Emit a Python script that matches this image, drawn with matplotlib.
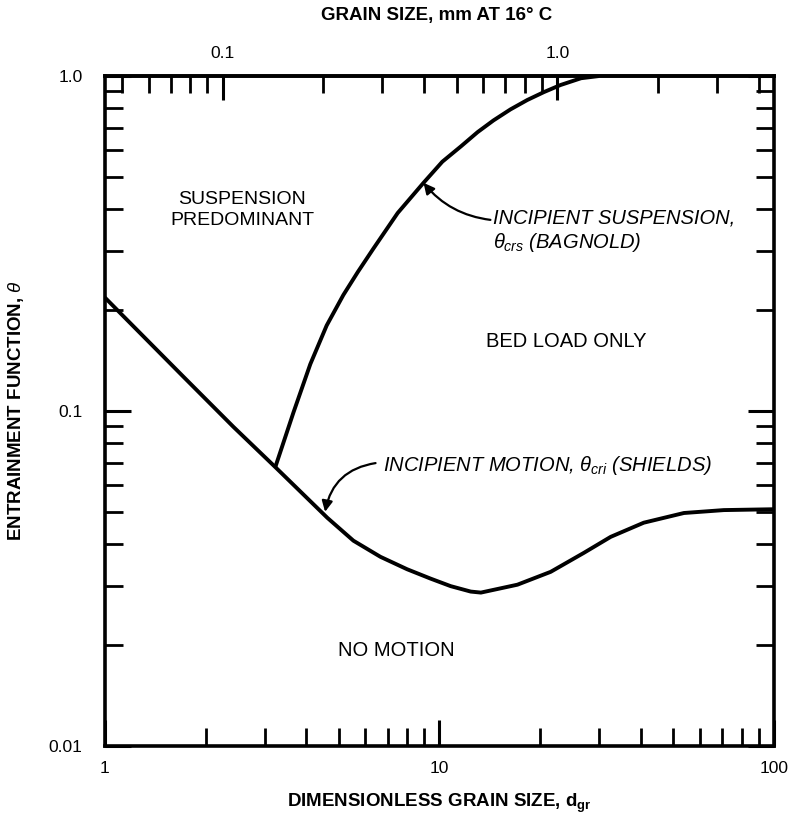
import numpy as np
import matplotlib.pyplot as plt
from matplotlib.ticker import FixedLocator, NullFormatter

plt.rcParams['font.family'] = ['Liberation Sans', 'DejaVu Sans']
plt.rcParams['mathtext.fontset'] = 'custom'
plt.rcParams['mathtext.rm'] = 'Liberation Sans'
plt.rcParams['mathtext.it'] = 'Liberation Sans:italic'
plt.rcParams['mathtext.bf'] = 'Liberation Sans:bold'

# Shields curve (incipient motion)
shields_dgr = [1.0, 1.71, 2.42, 3.23, 4.62, 5.53, 6.66, 8.0, 9.4, 10.8, 12.4, 13.3,
               17.1, 21.5, 27.0, 32.5, 40.8, 53.8, 70.8, 100.0]
shields_theta = [0.218, 0.127, 0.0897, 0.068, 0.048, 0.041, 0.0367, 0.0337, 0.0316, 0.0300,
                 0.0289, 0.0287, 0.0303, 0.0331, 0.0377, 0.0421, 0.0464, 0.0496, 0.0506, 0.0509]

# Bagnold curve (incipient suspension)
bagnold_dgr = [3.23, 3.66, 4.11, 4.6, 5.16, 5.7, 6.34, 7.5, 8.96, 10.2, 11.6, 13.0,
               14.5, 16.3, 18.3, 20.5, 23.0, 26.5, 30.0]
bagnold_theta = [0.068, 0.099, 0.138, 0.18, 0.222, 0.26, 0.305, 0.39, 0.48, 0.555, 0.617, 0.68,
                 0.737, 0.795, 0.848, 0.895, 0.94, 0.985, 1.0]

# grain size (mm at 16 C) -> d_gr factor
dgr_per_mm = 22.5

x_major = [1, 10, 100]
x_major_labels = ['1', '10', '100']
y_major = [0.01, 0.1, 1.0]
y_major_labels = ['0.01', '0.1', '1.0']
top_major = [0.1, 1.0]
top_major_labels = ['0.1', '1.0']
top_minor = [0.05, 0.06, 0.07, 0.08, 0.09, 0.2, 0.3, 0.4, 0.5, 0.6, 0.7, 0.8, 0.9, 2.0, 3.0, 4.0]

fig = plt.figure(figsize=(7.91, 8.21), dpi=100)
ax = fig.add_axes([0.1327, 0.0914, 0.8458, 0.8160])

ax.plot(shields_dgr, shields_theta, color='black', lw=2.8, solid_capstyle='butt')
ax.plot(bagnold_dgr, bagnold_theta, color='black', lw=2.8, solid_capstyle='butt')

ax.set_xscale('log')
ax.set_yscale('log')
ax.set_xlim(1, 100)
ax.set_ylim(0.01, 1.0)

for s in ax.spines.values():
    s.set_linewidth(2.6)

minor_x = [m * 10 ** k for k in range(0, 2) for m in range(2, 10)]
minor_y = [m * 10 ** k for k in range(-2, 0) for m in range(2, 10)]
ax.xaxis.set_major_locator(FixedLocator(x_major))
ax.xaxis.set_minor_locator(FixedLocator(minor_x))
ax.set_xticklabels(x_major_labels)
ax.xaxis.set_minor_formatter(NullFormatter())
ax.yaxis.set_major_locator(FixedLocator(y_major))
ax.yaxis.set_minor_locator(FixedLocator(minor_y))
ax.set_yticklabels(y_major_labels)
ax.yaxis.set_minor_formatter(NullFormatter())

ax.tick_params(axis='x', which='both', direction='in', top=False, bottom=True)
ax.tick_params(axis='y', which='both', direction='in', left=True, right=True)
ax.tick_params(which='major', length=19, width=2.2, labelsize=12.5, pad=11)
ax.tick_params(which='minor', length=13, width=2.0)
ax.tick_params(axis='y', which='major', pad=16)

sec = ax.secondary_xaxis('top', functions=(lambda d: d / dgr_per_mm, lambda g: g * dgr_per_mm))
sec.set_xticks(top_major)
sec.set_xticklabels(top_major_labels)
sec.xaxis.set_minor_locator(FixedLocator(top_minor))
sec.xaxis.set_minor_formatter(NullFormatter())
sec.tick_params(which='major', direction='in', length=17, width=2.2, labelsize=12.5, pad=11)
sec.tick_params(which='minor', direction='in', length=12, width=2.0)
sec.spines['top'].set_linewidth(2.6)
ax.text(0.495, 1.091, 'GRAIN SIZE, mm AT 16\u00b0 C', transform=ax.transAxes, ha='center',
        va='center', fontsize=13.5, fontweight='bold')

ax.set_xlabel(r'DIMENSIONLESS GRAIN SIZE, $\mathbf{d}_{\mathbf{gr}}$', fontsize=13.5, fontweight='bold')
ax.xaxis.set_label_coords(0.50, -0.068)
ax.set_ylabel(r'ENTRAINMENT FUNCTION, $\theta$', fontsize=13.5, fontweight='bold')
ax.yaxis.set_label_coords(-0.118, 0.50)

# region labels
ax.text(0.205, 0.800, 'SUSPENSION\nPREDOMINANT', transform=ax.transAxes, ha='center', va='center',
        fontsize=14, linespacing=1.25)
ax.text(0.689, 0.603, 'BED LOAD ONLY', transform=ax.transAxes, ha='center', va='center', fontsize=14.5)
ax.text(0.436, 0.143, 'NO MOTION', transform=ax.transAxes, ha='center', va='center', fontsize=14.5)

# curve annotations
ax.text(0.580, 0.788, 'INCIPIENT SUSPENSION,', transform=ax.transAxes, ha='left', va='center',
        fontsize=14.5, style='italic')
ax.text(0.580, 0.752, r'$\theta_{crs}$ (BAGNOLD)', transform=ax.transAxes, ha='left', va='center',
        fontsize=14.5, style='italic')
ax.text(0.4155, 0.418, r'INCIPIENT MOTION, $\theta_{cri}$ (SHIELDS)', transform=ax.transAxes,
        ha='left', va='center', fontsize=14.5, style='italic')

ax.annotate('', xy=(8.96, 0.48), xytext=(14.2, 0.372),
            arrowprops=dict(arrowstyle='-|>', color='black', lw=1.6, mutation_scale=16,
                            connectionstyle='arc3,rad=-0.2', shrinkA=0, shrinkB=0))
ax.annotate('', xy=(4.55, 0.050), xytext=(6.44, 0.0699),
            arrowprops=dict(arrowstyle='-|>', color='black', lw=1.6, mutation_scale=16,
                            connectionstyle='arc3,rad=0.35', shrinkA=0, shrinkB=0))

fig.savefig('out.png', dpi=100)
